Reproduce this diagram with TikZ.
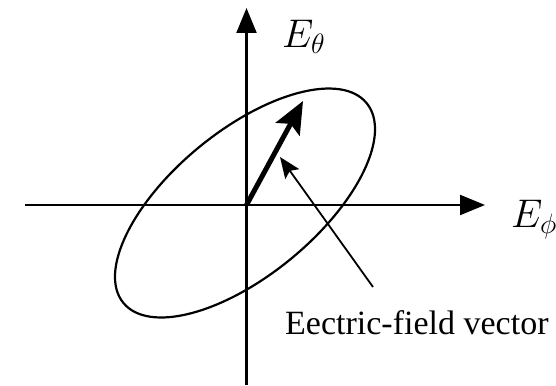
\documentclass[tikz,border=0pt]{standalone}
\usepackage{fix-cm}
\usepackage{fontspec}
\newfontfamily\labelfont{Liberation Serif}
\usetikzlibrary{arrows.meta}
\begin{document}
\begin{tikzpicture}[x=1pt,y=1pt,
  axisline/.style={line width=2.2pt,-{Triangle[length=25pt,width=20pt]}},
  curve/.style={line width=2.2pt},
  fieldvec/.style={line width=5pt,-{Stealth[length=32pt,width=27pt,inset=6pt]}},
  pointer/.style={line width=1.8pt,-{Stealth[length=21pt,width=17pt,inset=4pt]}},
  mathlabel/.style={inner sep=0pt,font=\fontsize{40}{44}\selectfont},
  textlabel/.style={inner sep=0pt,font=\labelfont\fontsize{34}{36}\selectfont}]
\useasboundingbox (0,0) rectangle (556,385);
% points
\coordinate (O) at (246.5,180);
\coordinate (vbot) at (246.5,0);
\coordinate (vtop) at (246.5,377);
\coordinate (hleft) at (25,180);
\coordinate (hright) at (485,180);
\coordinate (C) at (245,182);
\coordinate (vtip) at (303,284);
\coordinate (ptail) at (373,98);
\coordinate (ptip) at (280,228);
% axes
\draw[axisline] (vbot) -- (vtop);
\draw[axisline] (hleft) -- (hright);
% ellipse
\draw[curve,rotate around={39.4:(C)}] (C) ellipse [x radius=157.4, y radius=72.3];
% vectors
\draw[fieldvec] (O) -- (vtip);
\draw[pointer] (ptail) -- (ptip);
% labels
\node[mathlabel,anchor=base west] (Etheta) at (282,337) {$E_\theta$};
\node[mathlabel,anchor=base west] (Ephi) at (511,157) {$E_\phi$};
\node[textlabel,anchor=base west] (caption) at (285,50) {Eectric-field vector};
\end{tikzpicture}
\end{document}
